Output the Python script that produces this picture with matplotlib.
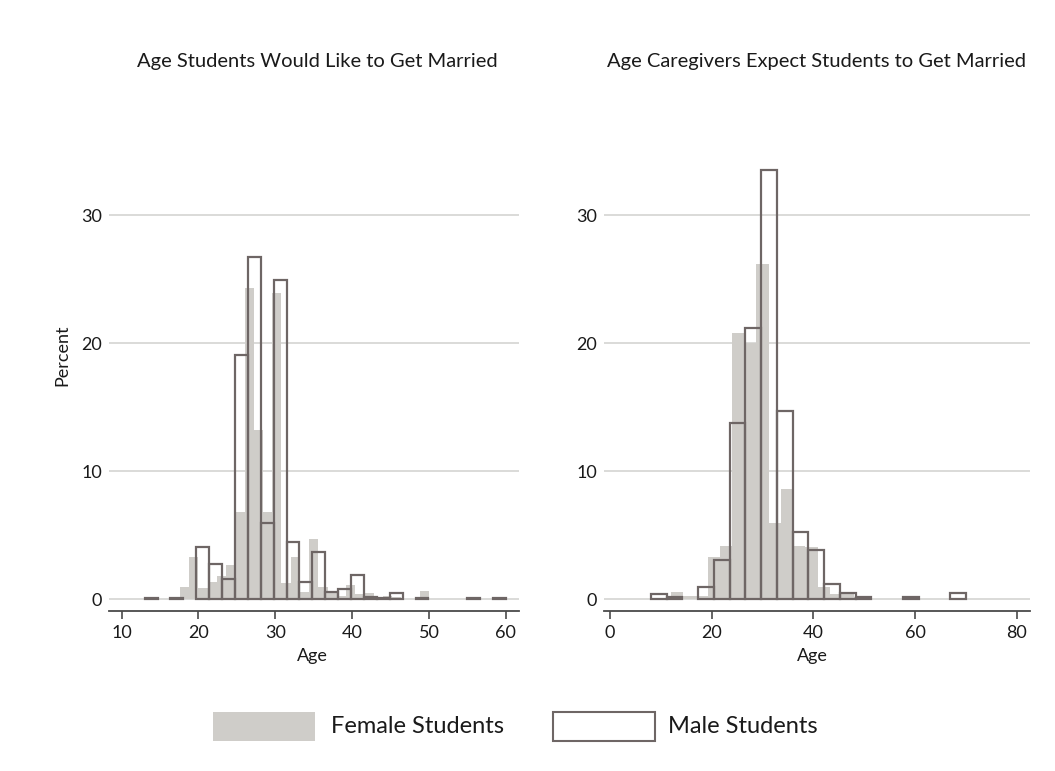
import matplotlib
matplotlib.use('Agg')
import matplotlib.pyplot as plt
from matplotlib.patches import Rectangle
import numpy as np

plt.rcParams['font.family'] = ['Lato', 'DejaVu Sans']

# Colors
FEMALE_FILL = '#cfcdc9'
MALE_EDGE = '#6e6665'
GRID = '#d8d8d5'
AXIS = '#4a4a4a'
TEXT = '#1a1a1a'

# Panel 1: age students would like to get married (percent per bin)
ideal_female_edges = np.linspace(14, 50, 31)
ideal_female_pct = [0, 0, 0, 1.0, 3.3, 0.9, 1.4, 1.8, 2.7, 6.8,
                    24.3, 13.2, 6.8, 23.9, 1.3, 3.3, 0.6, 4.7, 1.0, 0.6,
                    0.3, 1.1, 0.4, 0.5, 0.2, 0.3, 0.2, 0, 0, 0.65]
ideal_male_edges = np.linspace(13, 60, 29)
ideal_male_pct = [0.15, 0, 0.15, 0, 4.1, 2.8, 1.6, 19.1, 26.7, 6.0,
                  24.9, 4.5, 1.35, 3.7, 0.62, 0.78, 1.95, 0.23, 0.13, 0.52,
                  0, 0.13, 0, 0, 0, 0.13, 0, 0.13]

# Panel 2: age caregivers expect students to get married
expect_female_edges = np.linspace(12, 60, 21)
expect_female_pct = [0.6, 0.3, 0.3, 3.3, 4.2, 20.8, 20.0, 26.2, 6.0, 8.65,
                     4.2, 4.1, 1.0, 0.45, 0.5, 0.2, 0, 0, 0, 0.2]
expect_male_edges = np.linspace(8, 70, 21)
expect_male_pct = [0.45, 0.2, 0, 0.96, 3.1, 13.8, 21.2, 33.5, 14.7, 5.3,
                   3.9, 1.2, 0.5, 0.2, 0, 0, 0.2, 0, 0, 0.5]

titles = ['Age Students Would Like to Get Married',
          'Age Caregivers Expect Students to Get Married']
xticks = [[10, 20, 30, 40, 50, 60], [0, 20, 40, 60, 80]]
xlims = [(8.4, 61.7), (-1.2, 82.6)]
yticks = [0, 10, 20, 30]

fig = plt.figure(figsize=(10.55, 7.71), dpi=100)
fig.patch.set_facecolor('white')

ax1 = fig.add_axes([0.1036, 0.2075, 0.3883, 0.6132])
ax2 = fig.add_axes([0.5725, 0.2075, 0.4038, 0.6132])


def draw_hist(ax, edges, pct, **kw):
    edges = np.asarray(edges)
    pct = np.asarray(pct, dtype=float)
    keep = pct > 0
    lefts = edges[:-1][keep]
    widths = np.diff(edges)[keep]
    ax.bar(lefts, pct[keep], width=widths, align='edge', **kw)


panels = [
    (ax1, ideal_female_edges, ideal_female_pct, ideal_male_edges, ideal_male_pct),
    (ax2, expect_female_edges, expect_female_pct, expect_male_edges, expect_male_pct),
]

for i, (ax, fe, fp, me, mp) in enumerate(panels):
    draw_hist(ax, fe, fp, color=FEMALE_FILL, linewidth=0, zorder=2)
    draw_hist(ax, me, mp, facecolor='none', edgecolor=MALE_EDGE,
              linewidth=1.6, zorder=3)

    ax.set_xlim(*xlims[i])
    ax.set_ylim(-0.9, 36)
    ax.set_xticks(xticks[i])
    ax.set_yticks(yticks)
    ax.yaxis.grid(True, color=GRID, linewidth=1.3, zorder=0)
    ax.set_axisbelow(True)
    for s in ['top', 'right', 'left']:
        ax.spines[s].set_visible(False)
    ax.spines['bottom'].set_color(AXIS)
    ax.spines['bottom'].set_linewidth(1.3)
    ax.tick_params(axis='x', length=6, width=1.2, color=AXIS, labelsize=13,
                   labelcolor=TEXT, pad=4)
    ax.tick_params(axis='y', length=0, labelsize=13, labelcolor=TEXT, pad=5)
    ax.set_facecolor('white')

# Titles and axis labels
fig.text(0.3005, 0.9196, titles[0], ha='center', va='center', fontsize=14.5, color=TEXT)
fig.text(0.7744, 0.9196, titles[1], ha='center', va='center', fontsize=14.5, color=TEXT)
fig.text(0.2957, 0.1492, 'Age', ha='center', va='center', fontsize=13, color=TEXT)
fig.text(0.7697, 0.1492, 'Age', ha='center', va='center', fontsize=13, color=TEXT)
fig.text(0.0588, 0.5396, 'Percent', ha='center', va='center', fontsize=13,
         rotation=90, color=TEXT)

# Legend
fig.add_artist(Rectangle((0.2019, 0.0389), 0.0967, 0.0376, transform=fig.transFigure,
                         facecolor=FEMALE_FILL, edgecolor='none'))
fig.add_artist(Rectangle((0.5242, 0.0389), 0.0967, 0.0376, transform=fig.transFigure,
                         facecolor='white', edgecolor=MALE_EDGE, linewidth=1.5))
fig.text(0.3137, 0.0577, 'Female Students', ha='left', va='center', fontsize=17, color=TEXT)
fig.text(0.6332, 0.0577, 'Male Students', ha='left', va='center', fontsize=17, color=TEXT)

fig.savefig('out.png', dpi=100, facecolor='white')
plt.close(fig)
